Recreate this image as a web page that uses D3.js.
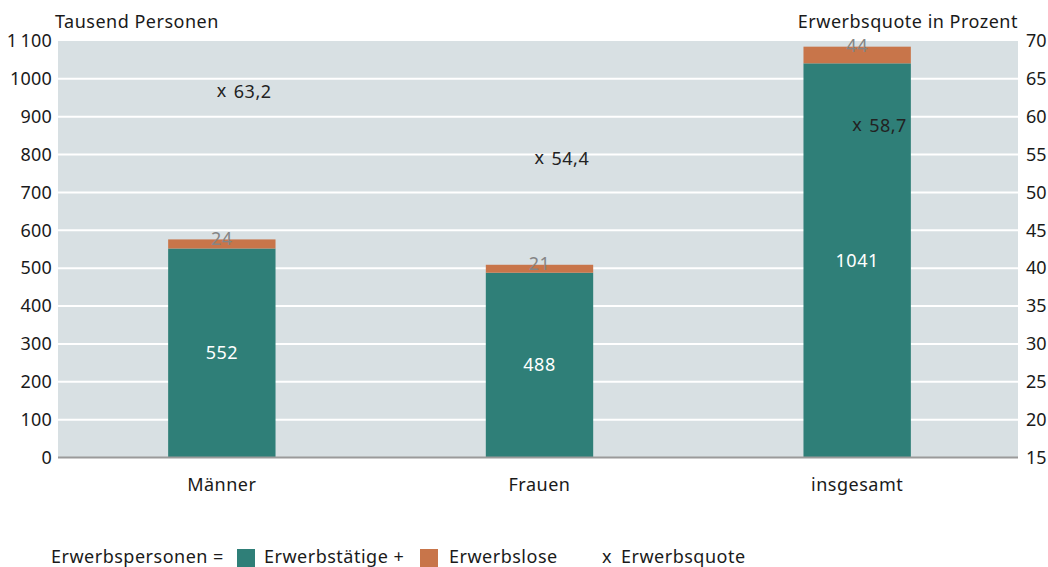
<!DOCTYPE html>
<html><head><meta charset="utf-8">
<script src="https://cdn.jsdelivr.net/npm/d3@7"></script>
<style>
html,body{margin:0;padding:0;background:#fff;}
svg{display:block;font-family:"Noto Sans",sans-serif;letter-spacing:0.5px;}
</style></head>
<body>
<svg id="chart" width="1048" height="567"></svg>
<script>
const categories = ["Männer", "Frauen", "insgesamt"];
const erwerbstaetige = [552, 488, 1041];
const erwerbslose = [24, 21, 44];
const erwerbsquote = [63.2, 54.4, 58.7];
const leftTicks = [0, 100, 200, 300, 400, 500, 600, 700, 800, 900, 1000, 1100];
const leftTickLabels = ["0", "100", "200", "300", "400", "500", "600", "700", "800", "900", "1000", "1\u2009100"];
const rightTicks = [15, 20, 25, 30, 35, 40, 45, 50, 55, 60, 65, 70];
const legendItems = ["Erwerbspersonen =", "Erwerbstätige +", "Erwerbslose", "Erwerbsquote"];

const svg = d3.select("#chart");
const plot = {left: 58, right: 1018, top: 41, bottom: 457.5};
const FS = 18;
const FF = "'Noto Sans', sans-serif";
const colGreen = "#2f7f78", colOrange = "#c8754a", bg = "#d8e0e3";

const x = d3.scaleBand().domain(categories).range([63, 1016]).paddingInner(0.662).paddingOuter(0.331);
const y = d3.scaleLinear().domain([0, 1100]).range([plot.bottom, plot.top]);
const y2 = d3.scaleLinear().domain([15, 70]).range([plot.bottom, plot.top]);

svg.append("rect").attr("x", plot.left).attr("y", plot.top)
  .attr("width", plot.right - plot.left).attr("height", plot.bottom - plot.top).attr("fill", bg);

// gridlines
svg.append("g").selectAll("line").data(leftTicks.filter(d => d > 0 && d < 1100)).join("line")
  .attr("x1", plot.left).attr("x2", plot.right)
  .attr("y1", d => y(d)).attr("y2", d => y(d))
  .attr("stroke", "#fff").attr("stroke-width", 2);

// left axis
const la = svg.append("g").attr("transform", `translate(${plot.left - 6},0)`)
  .call(d3.axisLeft(y).tickValues(leftTicks).tickSize(0).tickPadding(0).tickFormat((d, i) => leftTickLabels[i]));
la.select(".domain").remove();
la.selectAll("text").attr("font-size", FS).attr("fill", "#1a1a1a").attr("font-family", FF).attr("letter-spacing", "0.2px");

// right axis
const ra = svg.append("g").attr("transform", `translate(${plot.right + 8},0)`)
  .call(d3.axisRight(y2).tickValues(rightTicks).tickSize(0).tickPadding(0));
ra.select(".domain").remove();
ra.selectAll("text").attr("font-size", FS).attr("fill", "#1a1a1a").attr("font-family", FF).attr("letter-spacing", "0px");

// bars
const g = svg.append("g");
g.selectAll("rect.e").data(categories).join("rect").attr("class", "e")
  .attr("x", d => x(d)).attr("width", x.bandwidth())
  .attr("y", (d, i) => y(erwerbstaetige[i])).attr("height", (d, i) => y(0) - y(erwerbstaetige[i]))
  .attr("fill", colGreen);
g.selectAll("rect.l").data(categories).join("rect").attr("class", "l")
  .attr("x", d => x(d)).attr("width", x.bandwidth())
  .attr("y", (d, i) => y(erwerbstaetige[i] + erwerbslose[i]))
  .attr("height", (d, i) => y(erwerbstaetige[i]) - y(erwerbstaetige[i] + erwerbslose[i]))
  .attr("fill", colOrange);

// baseline
svg.append("line").attr("x1", plot.left).attr("x2", plot.right)
  .attr("y1", y(0)).attr("y2", y(0)).attr("stroke", "#9a9a9a").attr("stroke-width", 2);

// value labels
g.selectAll("text.e").data(categories).join("text").attr("class", "e")
  .attr("x", d => x(d) + x.bandwidth() / 2)
  .attr("y", (d, i) => (y(0) + y(erwerbstaetige[i])) / 2)
  .attr("dy", "0.35em").attr("text-anchor", "middle").attr("font-size", FS).attr("fill", "#fff")
  .text((d, i) => erwerbstaetige[i]);
g.selectAll("text.l").data(categories).join("text").attr("class", "l")
  .attr("x", d => x(d) + x.bandwidth() / 2)
  .attr("y", (d, i) => y(erwerbstaetige[i] + erwerbslose[i]))
  .attr("dy", "0.3em").attr("text-anchor", "middle").attr("font-size", FS).attr("fill", "#858585")
  .text((d, i) => erwerbslose[i]);

// quote markers
const q = svg.append("g");
q.selectAll("text.m").data(categories).join("text").attr("class", "m")
  .attr("x", d => x(d) + x.bandwidth() / 2).attr("y", (d, i) => y2(erwerbsquote[i]))
  .attr("dy", "0.25em").attr("text-anchor", "middle").attr("font-size", FS).attr("fill", "#222").text("x");
q.selectAll("text.v").data(categories).join("text").attr("class", "v")
  .attr("x", d => x(d) + x.bandwidth() / 2 + 12).attr("y", (d, i) => y2(erwerbsquote[i]))
  .attr("dy", "0.3em").attr("text-anchor", "start").attr("font-size", FS).attr("fill", "#222")
  .text((d, i) => String(erwerbsquote[i]).replace(".", ","));

// category labels
svg.append("g").selectAll("text").data(categories).join("text")
  .attr("x", d => x(d) + x.bandwidth() / 2).attr("y", 491)
  .attr("text-anchor", "middle").attr("font-size", FS).attr("fill", "#1a1a1a").text(d => d);

// axis titles
svg.append("text").attr("x", 55).attr("y", 28).attr("font-size", FS).attr("fill", "#1a1a1a").text("Tausend Personen");
svg.append("text").attr("x", plot.right).attr("y", 28).attr("text-anchor", "end").attr("font-size", FS).attr("fill", "#1a1a1a").text("Erwerbsquote in Prozent");

// legend
const lg = svg.append("g");
const ly = 563;
lg.append("text").attr("x", 51).attr("y", ly).attr("font-size", FS).attr("fill", "#1a1a1a").text(legendItems[0]);
lg.append("rect").attr("x", 237).attr("y", 549).attr("width", 18).attr("height", 18).attr("fill", colGreen);
lg.append("text").attr("x", 264).attr("y", ly).attr("font-size", FS).attr("fill", "#1a1a1a").text(legendItems[1]);
lg.append("rect").attr("x", 420).attr("y", 549).attr("width", 18).attr("height", 18).attr("fill", colOrange);
lg.append("text").attr("x", 449).attr("y", ly).attr("font-size", FS).attr("fill", "#1a1a1a").text(legendItems[2]);
lg.append("text").attr("x", 607).attr("y", ly).attr("text-anchor", "middle").attr("font-size", FS).attr("fill", "#1a1a1a").text("x");
lg.append("text").attr("x", 621).attr("y", ly).attr("font-size", FS).attr("fill", "#1a1a1a").text(legendItems[3]);
</script>
</body></html>
